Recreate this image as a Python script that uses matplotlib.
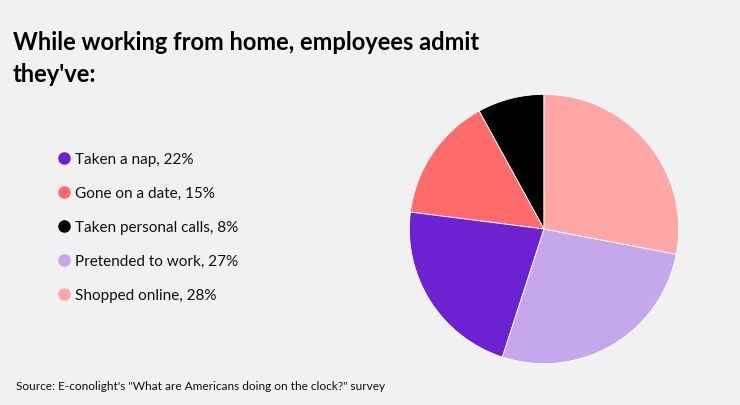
import matplotlib
matplotlib.use("Agg")
import matplotlib.pyplot as plt
from matplotlib.lines import Line2D

# data, in legend order
labels = ["Taken a nap", "Gone on a date", "Taken personal calls", "Pretended to work", "Shopped online"]
shares = [22, 15, 8, 27, 28]
colors = ["#6c22d0", "#ff6b6b", "#000000", "#c5a8eb", "#ffa6a6"]
# order of wedges counter-clockwise from 12 o'clock
pie_order = [2, 1, 0, 3, 4]

title_lines = ["While working from home, employees admit", "they've:"]
source = "Source: E-conolight's \"What are Americans doing on the clock?\" survey"

bg = "#f0f1f0"
plt.rcParams["font.family"] = ["Lato", "DejaVu Sans"]

W, H = 740, 406
fig = plt.figure(figsize=(W / 100, H / 100), dpi=100, facecolor=bg)

for line, base in zip(title_lines, [49.5, 82.5]):
    fig.text(13 / W, 1 - base / H, line, fontsize=17, fontweight="bold",
             color="#000000", ha="left", va="baseline")

# pie
cx, cy, r = 544, 230, 136
ax = fig.add_axes([(cx - r) / W, (H - cy - r) / H, 2 * r / W, 2 * r / H])
ax.set_facecolor(bg)
ax.pie([shares[i] for i in pie_order], colors=[colors[i] for i in pie_order],
       startangle=90, counterclock=True,
       wedgeprops=dict(edgecolor="white", linewidth=0.6))
ax.set_xlim(-1.01, 1.01)
ax.set_ylim(-1.01, 1.01)
ax.set_aspect("equal")
ax.axis("off")

# legend
handles = [Line2D([], [], linestyle="none", marker="o", markersize=8,
                  markerfacecolor=c, markeredgecolor=c) for c in colors]
texts = [f"{l}, {s}%" for l, s in zip(labels, shares)]
leg = fig.legend(handles, texts, loc="upper left", bbox_to_anchor=(53 / W, 1 - 147 / H),
                 frameon=False, fontsize=11, labelspacing=1.31, handlelength=0.6,
                 handletextpad=0.45, borderaxespad=0)
for t in leg.get_texts():
    t.set_color("#111111")

fig.text(16 / W, 1 - 387 / H, source, fontsize=8.6, color="#111111", ha="left", va="center")

plt.savefig("out.png", dpi=100, facecolor=bg)
